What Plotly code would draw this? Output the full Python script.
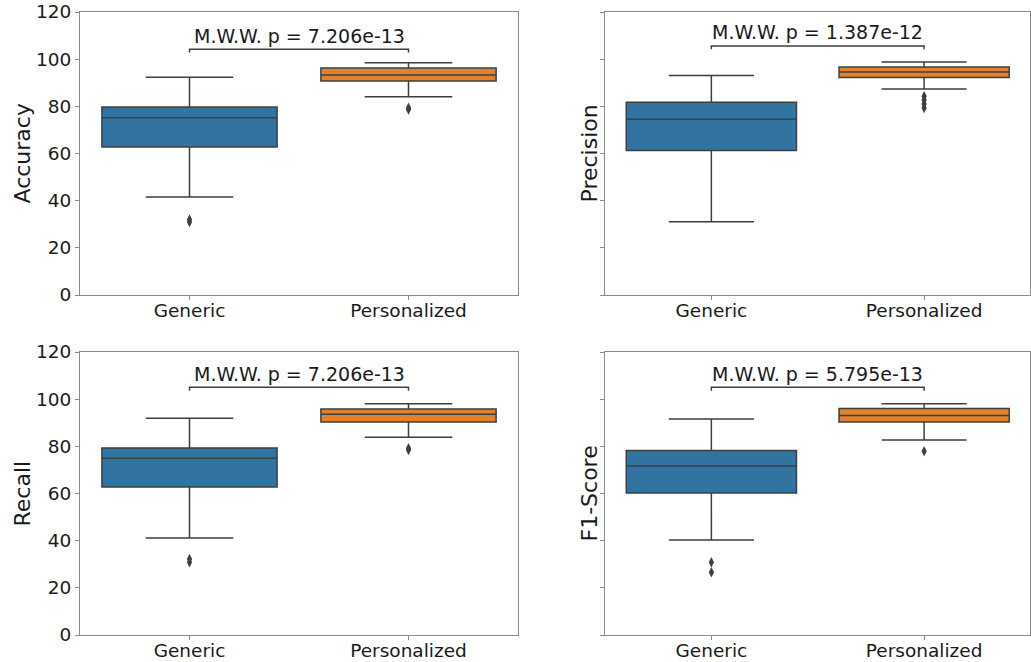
import plotly.graph_objects as go

categories = ["Generic", "Personalized"]
metrics = ["Accuracy", "Precision", "Recall", "F1-Score"]
pvalues = ["7.206e-13", "1.387e-12", "7.206e-13", "5.795e-13"]
bracket_y = [104.2, 105.6, 105.0, 105.0]

# per metric: [Generic, Personalized]
q1 = [[62.8, 90.7], [61.3, 92.2], [62.8, 90.3], [60.2, 90.3]]
median = [[75.2, 93.3], [74.5, 94.6], [74.9, 93.6], [71.7, 93.1]]
q3 = [[79.7, 96.3], [81.7, 96.7], [79.3, 95.8], [78.2, 96.0]]
lowerfence = [[41.6, 84.1], [31.1, 87.3], [41.1, 83.8], [40.3, 82.7]]
upperfence = [[92.3, 98.5], [93.1, 98.8], [91.9, 98.1], [91.6, 98.1]]
outliers = [
    [[32.0, 31.0], [79.4, 78.7]],
    [[], [84.3, 82.7, 81.0, 79.3]],
    [[32.2, 30.9], [79.2, 78.4]],
    [[30.8, 26.6], [77.9]],
]

colors = ["#3274a1", "#e1812c"]
line_gray = "#3f3f3f"
spine = "#8a8a8a"
text_color = "#1a1a1a"
font_family = "DejaVu Sans"

x_domains = [[80 / 1031, 518 / 1031], [605 / 1031, 0.9995]]
y_domains = [[1 - 295 / 662, 1 - 12 / 662], [1 - 635 / 662, 1 - 352 / 662]]
ytitle_x = [22 / 1031, 589 / 1031]

fig = go.Figure()
layout = dict(
    width=1031, height=662,
    margin=dict(l=0, r=0, t=0, b=0, pad=0),
    paper_bgcolor="white", plot_bgcolor="white",
    showlegend=False,
    font=dict(family=font_family, color=text_color, size=18),
)
annotations = []

for i, m in enumerate(metrics):
    row, col = divmod(i, 2)
    ax = "" if i == 0 else str(i + 1)
    xref, yref = "x" + ax, "y" + ax
    for j, cat in enumerate(categories):
        fig.add_trace(go.Box(
            x=[j], q1=[q1[i][j]], median=[median[i][j]], q3=[q3[i][j]],
            lowerfence=[lowerfence[i][j]], upperfence=[upperfence[i][j]],
            width=0.8, whiskerwidth=0.5,
            fillcolor=colors[j], line=dict(color=line_gray, width=1.5),
            boxpoints=False, xaxis=xref, yaxis=yref, hoverinfo="skip",
        ))
        if outliers[i][j]:
            fig.add_trace(go.Scatter(
                x=[j] * len(outliers[i][j]), y=outliers[i][j], mode="markers",
                marker=dict(symbol="diamond-tall", size=7.5, color=line_gray),
                xaxis=xref, yaxis=yref, hoverinfo="skip",
            ))
    # bracket
    yb = bracket_y[i]
    fig.add_trace(go.Scatter(
        x=[0, 0, 1, 1], y=[yb - 1.4, yb, yb, yb - 1.4], mode="lines",
        line=dict(color=line_gray, width=1.5),
        xaxis=xref, yaxis=yref, hoverinfo="skip",
    ))
    annotations.append(dict(
        x=0.5, y=yb + 0.2, xref=xref, yref=yref, text="M.W.W. p = " + pvalues[i],
        showarrow=False, yanchor="bottom",
        font=dict(size=19, family=font_family, color=text_color),
    ))
    # y-axis title
    annotations.append(dict(
        x=ytitle_x[col], y=sum(y_domains[row]) / 2, xref="paper", yref="paper",
        text=m, textangle=-90, showarrow=False, xanchor="center", yanchor="middle",
        font=dict(size=22, family=font_family, color=text_color),
    ))
    xkey = "xaxis" + ax
    ykey = "yaxis" + ax
    layout[xkey] = dict(
        domain=x_domains[col], anchor=yref, range=[-0.5, 1.5], automargin=False,
        tickmode="array", tickvals=[0, 1], ticktext=categories,
        ticks="outside", ticklen=4, tickcolor=spine, ticklabelstandoff=-5,
        showline=True, linecolor=spine, mirror=True, showgrid=False, zeroline=False,
        tickfont=dict(size=18.5, family=font_family, color=text_color),
    )
    layout[ykey] = dict(
        domain=y_domains[row], anchor=xref, range=[0, 120], automargin=False,
        tickmode="array", tickvals=[0, 20, 40, 60, 80, 100, 120],
        showticklabels=(col == 0),
        ticks="outside", ticklen=4, tickcolor=spine,
        showline=True, linecolor=spine, mirror=True, showgrid=False, zeroline=False,
        tickfont=dict(size=18.5, family=font_family, color=text_color),
    )

layout["annotations"] = annotations
fig.update_layout(**layout)
fig.write_html("out.html")
